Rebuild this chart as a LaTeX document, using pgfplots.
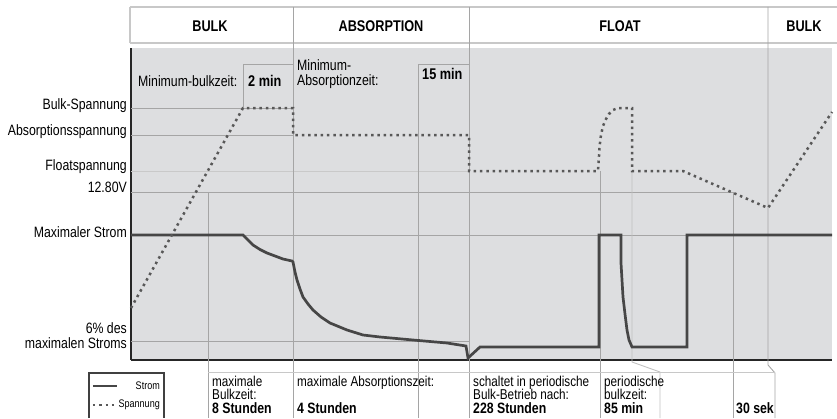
\documentclass[border=0pt]{standalone}
\usepackage{fontspec}
\setmainfont{Liberation Sans}[FakeStretch=0.82]
\usepackage{pgfplots}
\pgfplotsset{compat=1.18}
\definecolor{bg}{RGB}{221,222,224}
\definecolor{grd}{RGB}{165,165,165}
\definecolor{hdr}{RGB}{200,200,200}
\definecolor{dat}{RGB}{70,70,70}
\begin{document}
\begin{tikzpicture}[
  lab/.style={font=\fontsize{15}{15}\selectfont, inner sep=0pt, anchor=base east},
  ann/.style={font=\fontsize{15}{15}\selectfont, inner sep=0pt, anchor=base west},
  bann/.style={font=\fontsize{15.5}{15}\selectfont\bfseries, inner sep=0pt, anchor=base west},
  ft/.style={font=\fontsize{14.3}{14}\selectfont, inner sep=0pt, anchor=base west},
  bft/.style={font=\fontsize{15}{15}\selectfont\bfseries, inner sep=0pt, anchor=base west},
  hd/.style={font=\fontsize{15.5}{15}\selectfont\bfseries, inner sep=0pt, anchor=base},
  g/.style={draw=grd, line width=0.9pt},
]
\begin{axis}[
  scale only axis, width=701pt, height=312pt,
  xmin=131, xmax=832, ymin=58, ymax=370,
  axis x line*=bottom, axis y line*=left,
  axis line style={line width=1.8pt, black!85},
  xtick=\empty, ytick=\empty,
  clip=false,
  axis background/.style={fill=bg},
]
% bounding box corners
\coordinate (BL) at (axis cs:0,0);
\coordinate (TR) at (axis cs:837,418);
% header
\draw[draw=hdr, line width=1.5pt] (axis cs:130,411) -- (axis cs:837,411);
\draw[draw=hdr, line width=1.5pt] (axis cs:130,375) -- (axis cs:837,375);
\draw[draw=hdr, line width=1.5pt] (axis cs:130,411) -- (axis cs:130,375);
\node[hd] at (axis cs:210,386) {BULK};
\node[hd] at (axis cs:381,386) {ABSORPTION};
\node[hd] at (axis cs:620,386) {FLOAT};
\node[hd] at (axis cs:804,386) {BULK};
% level lines
\draw[g] (axis cs:131,310) -- (axis cs:293,310);
\draw[g] (axis cs:131,283) -- (axis cs:293,283);
\draw[draw=grd!60, line width=0.9pt] (axis cs:131,247) -- (axis cs:469,247);
\draw[g] (axis cs:131,226) -- (axis cs:733,226);
\draw[g] (axis cs:131,183) -- (axis cs:832,183);
\draw[g] (axis cs:131,77) -- (axis cs:469,77);
% boxes
\draw[g] (axis cs:243,310) -- (axis cs:243,354) -- (axis cs:293,354);
\draw[g] (axis cs:418,0) -- (axis cs:418,354) -- (axis cs:469,354);
% verticals
\draw[g] (axis cs:208,226) -- (axis cs:208,0);
\draw[g] (axis cs:600,247) -- (axis cs:600,0);
\draw[draw=grd!70, line width=0.9pt] (axis cs:632,247) -- (axis cs:632,56) -- (axis cs:660,46) -- (axis cs:660,0);
\draw[g] (axis cs:733,226) -- (axis cs:733,0);
\draw[g] (axis cs:293,411) -- (axis cs:293,0);
\draw[g] (axis cs:469,411) -- (axis cs:469,0);
\draw[g] (axis cs:768,411) -- (axis cs:768,53) -- (axis cs:775,45) -- (axis cs:775,0);
% footer line
\draw[draw=hdr, line width=0.9pt] (axis cs:208,46) -- (axis cs:775,46);
% current (Strom)
\addplot[dat, line width=2.7pt, line join=miter] coordinates {
(131,183) (243,183) (248,178) (253,173) (260,168.5) (267,165) (275,162) (283,159) (292,157)
(293,156) (295,146) (297,138) (300,129) (303,121) (308,114) (313,108) (321,101) (330,95)
(347,88) (363,83) (380,81) (413,78) (447,75) (466,72) (468,60) (480,71) (599,71)
(599,183) (621,183) (621,155) (623,121) (625,104) (627,88) (629,78) (632,71)
(687,71) (687,183) (832,183)
};
% voltage (Spannung)
\addplot[dat!90, line width=2.5pt, dash pattern=on 2.5pt off 3.8pt] coordinates {
(131,110) (243,310) (293,310) (293,283) (469,283) (469,247) (598,247) (599,262)
(599.5,271) (601,283) (603,292) (606,299) (609,304) (613,308) (618,310) (632,310)
(632,247) (683,247) (768,210) (832,306)
};
% left labels
\node[lab] at (axis cs:127,309) {Bulk-Spannung};
\node[lab] at (axis cs:127,283) {Absorptionsspannung};
\node[lab] at (axis cs:127,248) {Floatspannung};
\node[lab] at (axis cs:127,226) {12.80V};
\node[lab] at (axis cs:127,181) {Maximaler Strom};
\node[lab] at (axis cs:127,85) {6\% des};
\node[lab] at (axis cs:127,70) {maximalen Stroms};
% annotations
\node[ann] at (axis cs:138,331) {Minimum-bulkzeit:};
\node[bann] at (axis cs:248,331) {2 min};
\node[ann] at (axis cs:297,347) {Minimum-};
\node[ann] at (axis cs:297,332) {Absorptionzeit:};
\node[bann] at (axis cs:422,338) {15 min};
% footer texts
\node[ft] at (axis cs:212,32) {maximale};
\node[ft] at (axis cs:212,19) {Bulkzeit:};
\node[bft] at (axis cs:212,5) {8 Stunden};
\node[ft] at (axis cs:297,32) {maximale Absorptionszeit:};
\node[bft] at (axis cs:297,5) {4 Stunden};
\node[ft] at (axis cs:473,32) {schaltet in periodische};
\node[ft] at (axis cs:473,19) {Bulk-Betrieb nach:};
\node[bft] at (axis cs:473,5) {228 Stunden};
\node[ft] at (axis cs:604,32) {periodische};
\node[ft] at (axis cs:604,19) {bulkzeit:};
\node[bft] at (axis cs:604,5) {85 min};
\node[bft] at (axis cs:736,5) {30 sek};
% legend
\draw[line width=1.5pt, black!75] (axis cs:89,0) -- (axis cs:89,45) -- (axis cs:164,45) -- (axis cs:164,0);
\draw[dat, line width=2.7pt] (axis cs:93,32) -- (axis cs:117,32);
\draw[dat!90, line width=2.5pt, dash pattern=on 2.5pt off 3.8pt] (axis cs:93,13) -- (axis cs:116,13);
\node[font=\fontsize{11}{11}\selectfont, inner sep=0pt, anchor=base east] at (axis cs:160,29) {Strom};
\node[font=\fontsize{11}{11}\selectfont, inner sep=0pt, anchor=base east] at (axis cs:160,11) {Spannung};
\end{axis}
\pgfresetboundingbox
\path (BL) rectangle (TR);
\end{tikzpicture}
\end{document}
